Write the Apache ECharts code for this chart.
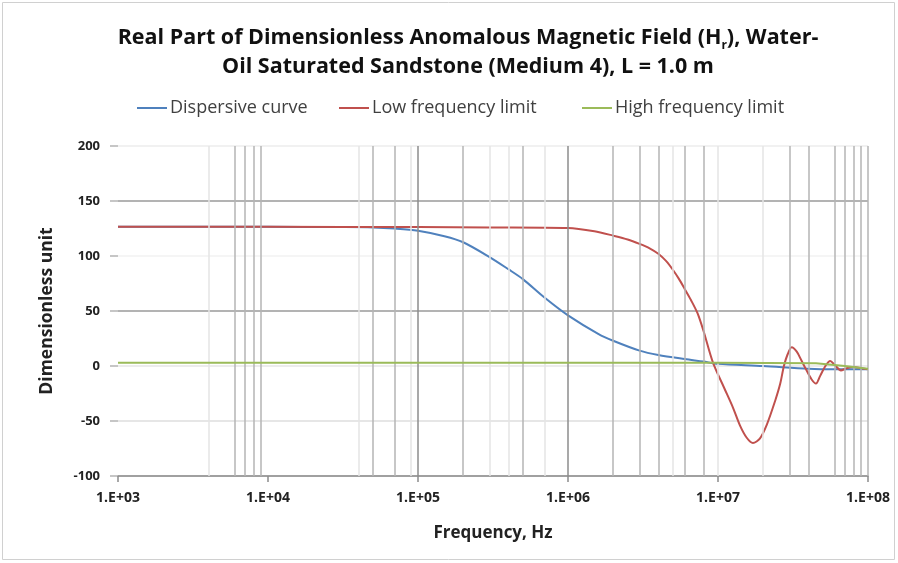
<!DOCTYPE html>
<html>
<head>
<meta charset="utf-8">
<script src="https://cdn.jsdelivr.net/npm/echarts@6/dist/echarts.min.js"></script>
<style>
  html, body { margin: 0; padding: 0; background: #fff; }
  #chart { width: 898px; height: 563px; }
</style>
</head>
<body>
<div id="chart"></div>
<script>
// Frequency (Hz) and dimensionless real part for each curve
const dispersiveFreq = [1e3, 1e4, 3e4, 5e4, 7e4, 1e5, 1.5e5, 2e5, 3e5, 4e5, 5e5, 7e5, 1e6, 1.6e6, 2e6, 3e6, 4e6, 6e6, 8e6, 1e7, 2e7, 4e7, 6e7, 1e8];
const dispersiveVal  = [126.5, 126.5, 126.3, 126, 125, 123, 118, 112.5, 99, 88, 79, 62, 46, 29, 23, 14, 10, 6.3, 4, 2, 0, -2.5, -3, -3];

const lowFreq = [1e3, 1e4, 1e5, 3e5, 1e6, 1.5e6, 2e6, 2.5e6, 3e6, 3.5e6, 4e6, 4.5e6, 5e6, 5.5e6, 6e6, 6.6e6, 7.3e6, 8e6, 9.26e6, 1.1e7, 1.26e7, 1.4e7, 1.55e7, 1.71e7, 1.9e7, 2.12e7, 2.4e7, 2.6e7, 2.75e7, 2.9e7, 3.1e7, 3.35e7, 3.6e7, 3.86e7, 4.2e7, 4.5e7, 4.8e7, 5.2e7, 5.6e7, 6.0e7, 6.6e7, 7.2e7, 8e7, 9e7, 1e8];
const lowVal  = [126.5, 126.5, 126.3, 126, 125.5, 122.5, 118.5, 115, 111, 107, 102, 95.5, 87.5, 79, 70, 60, 48, 32, 3, -20, -38, -54, -65, -70, -66, -53, -32, -16, 0, 10, 17, 13, 5, -3, -12, -16, -9, 0, 4.5, 1, -4, -2, -1, -2, -3];

const highFreq = [1e3, 1e5, 1e7, 4.5e7, 7e7, 1e8];
const highVal  = [3, 3, 3, 2.5, 0, -2.5];

// Vertical gridlines on the frequency axis, grouped by shade
const darkGridFreq  = [1e5, 1e6];
const midGridFreq   = [6e3, 7e3, 8e3, 9e3, 5e4, 7e4, 2e5, 5e5, 2e6, 3e6, 4e6, 6e6, 8e6, 3e7, 4e7, 6e7, 7e7, 8e7, 9e7, 1e8];
const faintGridFreq = [4e3, 4e4, 9e4, 3e5, 4e5, 7e5, 5e6, 1e7, 2e7];

const yTicks = [-100, -50, 0, 50, 100, 150, 200];

const seriesNames = ['Dispersive curve', 'Low frequency limit', 'High frequency limit'];
const legendLeft = [137, 339, 582];

const pair = (xs, ys) => xs.map((x, i) => [x, ys[i]]);

const FONT = 'Open Sans';

const vLines = [].concat(
  darkGridFreq.map(f => ({ xAxis: f, lineStyle: { color: '#8c8c8c', width: 1.5, type: 'solid' } })),
  midGridFreq.map(f => ({ xAxis: f, lineStyle: { color: '#b4b4b4', width: 1.5, type: 'solid' } })),
  faintGridFreq.map(f => ({ xAxis: f, lineStyle: { color: '#e4e4e4', width: 1.5, type: 'solid' } }))
);

const chart = echarts.init(document.getElementById('chart'), null, { renderer: 'canvas' });

chart.setOption({
  backgroundColor: '#fff',
  animation: false,
  textStyle: { fontFamily: FONT },
  title: {
    text: '{t|Real Part of Dimensionless Anomalous Magnetic Field (H}{s|r}{t|), Water-}\n{t|Oil Saturated Sandstone (Medium 4), L = 1.0 m}',
    left: 463,
    textAlign: 'center',
    top: 18,
    textStyle: {
      rich: {
        t: { fontFamily: FONT, fontWeight: 'bold', fontSize: 21.5, color: '#111', lineHeight: 29 },
        s: { fontFamily: FONT, fontWeight: 'bold', fontSize: 12, color: '#111', lineHeight: 29, verticalAlign: 'bottom', padding: [9, 0, 0, 0] }
      }
    }
  },
  legend: seriesNames.map((name, i) => ({
    top: 99,
    left: legendLeft[i],
    padding: 0,
    itemWidth: 30,
    itemHeight: 2,
    itemGap: 0,
    icon: 'rect',
    textStyle: { fontFamily: FONT, fontSize: 18, color: '#404040', padding: [0, 0, 0, -2] },
    data: [name]
  })),
  grid: { left: 118, right: 30, top: 146, bottom: 87, containLabel: false },
  xAxis: {
    type: 'log',
    logBase: 10,
    min: 1e3,
    max: 1e8,
    name: 'Frequency, Hz',
    nameLocation: 'middle',
    nameGap: 49,
    nameTextStyle: { fontFamily: FONT, fontWeight: 'bold', fontSize: 17, color: '#222' },
    axisLine: { show: true, onZero: false, lineStyle: { color: '#9a9a9a', width: 1.5 } },
    axisTick: { show: true, length: 6, lineStyle: { color: '#8c8c8c', width: 1.5 } },
    axisLabel: {
      margin: 15,
      fontFamily: FONT, fontWeight: 'bold', fontSize: 14, color: '#222',
      formatter: v => '1.E+' + String(Math.round(Math.log10(v))).padStart(2, '0')
    },
    splitLine: { show: false },
    minorTick: { show: false },
    minorSplitLine: { show: false }
  },
  yAxis: {
    type: 'value',
    min: yTicks[0],
    max: yTicks[yTicks.length - 1],
    interval: 50,
    name: 'Dimensionless unit',
    nameLocation: 'middle',
    nameGap: 62,
    nameRotate: 90,
    nameTextStyle: { fontFamily: FONT, fontWeight: 'bold', fontSize: 17.5, color: '#222' },
    axisLine: { show: false },
    axisTick: { show: true, length: 8, lineStyle: { color: '#b4b4b4', width: 1.5 } },
    axisLabel: { margin: 18, fontFamily: FONT, fontWeight: 'bold', fontSize: 13, color: '#222' },
    splitLine: {
      show: true,
      lineStyle: {
        width: 1.5,
        color: ['#9a9a9a', '#dedede', '#e6e6e6', '#9a9a9a', '#f2f2f2', '#9a9a9a', '#ececec']
      }
    }
  },
  series: [
    {
      name: '__grid',
      type: 'line',
      data: [],
      silent: true,
      z: 1,
      markLine: {
        silent: true,
        symbol: ['none', 'none'],
        label: { show: false },
        emphasis: { disabled: true },
        data: vLines
      }
    },
    {
      name: seriesNames[0],
      type: 'line',
      data: pair(dispersiveFreq, dispersiveVal),
      showSymbol: false,
      smooth: 0.3,
      z: 3,
      lineStyle: { color: '#4F81BD', width: 2 },
      itemStyle: { color: '#4F81BD' }
    },
    {
      name: seriesNames[1],
      type: 'line',
      data: pair(lowFreq, lowVal),
      showSymbol: false,
      smooth: 0.3,
      z: 4,
      lineStyle: { color: '#C0504D', width: 2 },
      itemStyle: { color: '#C0504D' }
    },
    {
      name: seriesNames[2],
      type: 'line',
      data: pair(highFreq, highVal),
      showSymbol: false,
      z: 5,
      lineStyle: { color: '#9BBB59', width: 2 },
      itemStyle: { color: '#9BBB59' }
    }
  ],
  graphic: [{
    type: 'rect',
    silent: true,
    shape: { x: 2.5, y: 2.5, width: 892, height: 557 },
    style: { fill: 'none', stroke: '#d0d0d0', lineWidth: 1 }
  }]
});
</script>
</body>
</html>
